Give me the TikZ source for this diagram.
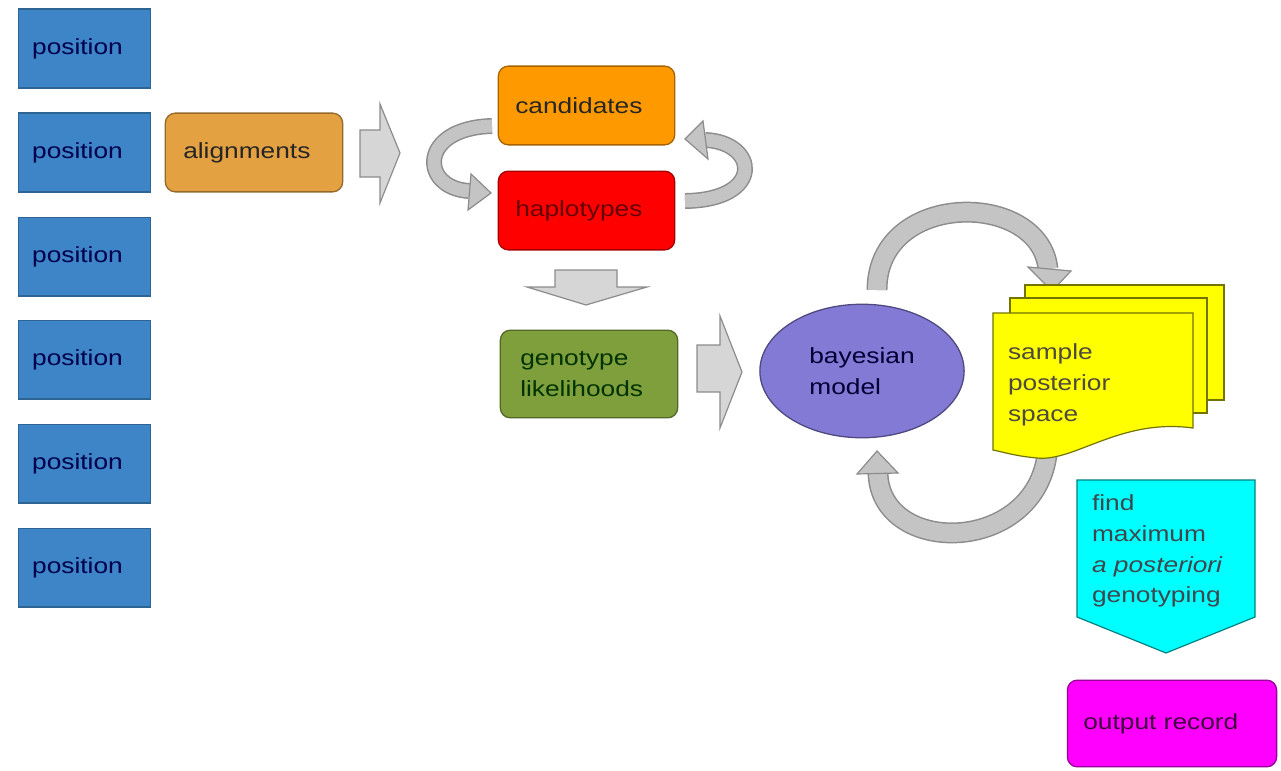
\documentclass[tikz,border=0pt]{standalone}
\usepackage{fontspec}
\setmainfont{Liberation Sans}[FakeStretch=1.2]
\usetikzlibrary{shapes.geometric}
\definecolor{posblue}{HTML}{3D85C6}
\definecolor{aligncol}{HTML}{E3A142}
\definecolor{candcol}{HTML}{FF9900}
\definecolor{haplcol}{HTML}{FF0000}
\definecolor{genocol}{HTML}{7F9F3C}
\definecolor{bayescol}{HTML}{837AD6}
\definecolor{doccol}{HTML}{FFFF00}
\definecolor{mapcol}{HTML}{00FFFF}
\definecolor{outcol}{HTML}{FF00FF}
\definecolor{arrowfill}{HTML}{D6D6D6}
\definecolor{arrowline}{HTML}{8C8C8C}
\definecolor{bandfill}{HTML}{C4C4C4}
\tikzset{
  every node/.style={font=\fontsize{22}{31}\selectfont, outer sep=0pt},
  basebox/.style={draw, line width=1.3, align=left, inner ysep=0pt, text=black!85},
  posbox/.style={basebox, fill=posblue, draw=posblue!75!black, text=blue!30!black,
    minimum width=133, minimum height=79, text width=105, inner xsep=14},
  rbox/.style={basebox, rounded corners=10},
  blockarrow/.style={fill=arrowfill, draw=arrowline, line width=1.2, line join=miter},
  bandout/.style={draw=arrowline, line width=16, line cap=butt},
  bandin/.style={draw=bandfill, line width=13, line cap=butt},
  bigbandout/.style={draw=arrowline, line width=21, line cap=butt},
  bigbandin/.style={draw=bandfill, line width=18, line cap=butt},
  bandhead/.style={fill=bandfill, draw=arrowline, line width=1.2, line join=miter},
  freetext/.style={inner sep=0pt, align=left, anchor=west, text=black!85}
}
\begin{document}
\begin{tikzpicture}[x=1bp, y=-1bp]
\useasboundingbox (0,0) rectangle (1281,771);

% position boxes
\node[posbox] (p1) at (84.5,48.5) {position};
\node[posbox] (p2) at (84.5,152.5) {position};
\node[posbox] (p3) at (84.5,256.5) {position};
\node[posbox] (p4) at (84.5,359.5) {position};
\node[posbox] (p5) at (84.5,463.5) {position};
\node[posbox] (p6) at (84.5,567.5) {position};

% curved loop arrows between candidates and haplotypes (drawn before boxes)
\draw[bandout] (492,126) .. controls (418,128) and (420,188) .. (469,191);
\draw[bandin]  (492,126) .. controls (418,128) and (420,188) .. (469,191);
\filldraw[bandhead] (491,193) -- (471,174) -- (468,210) -- cycle;
\draw[bandout] (685,201) .. controls (765,200) and (758,142) .. (705,140);
\draw[bandin]  (685,201) .. controls (765,200) and (758,142) .. (705,140);
\filldraw[bandhead] (685,139) -- (703,121) -- (708,159) -- cycle;

% alignments, candidates, haplotypes, genotype
\node[rbox, fill=aligncol, draw=aligncol!65!black, minimum width=178, minimum height=79,
  text width=142, inner xsep=18] (align) at (254,152.5) {alignments};
\node[rbox, fill=candcol, draw=candcol!65!black, minimum width=177, minimum height=79,
  text width=143, inner xsep=17] (cand) at (586.5,105.5) {candidates};
\node[rbox, fill=haplcol, draw=haplcol!65!black, text=red!40!black, minimum width=177, minimum height=79,
  text width=143, inner xsep=17] (hapl) at (586.5,210.5) {haplotypes};
\node[rbox, fill=genocol, draw=genocol!65!black, text=black!80!green, minimum width=178, minimum height=88,
  text width=138, inner xsep=20] (geno) at (589,374) {genotype\\likelihoods};

% block arrows
\filldraw[blockarrow] (360,130) -- (380,130) -- (380,104) -- (400,153) -- (380,203) -- (380,177) -- (360,177) -- cycle;
\filldraw[blockarrow] (555,270) -- (617,270) -- (617,287) -- (647,287) -- (586,305) -- (527,287) -- (555,287) -- cycle;
\filldraw[blockarrow] (697,345) -- (720,345) -- (720,316) -- (742,372) -- (720,428) -- (720,392) -- (697,392) -- cycle;

% bayesian model
\node[ellipse, draw=bayescol!60!black, line width=1.3, fill=bayescol, minimum width=205, minimum height=134,
  align=left, inner sep=0pt, text=blue!20!black] (bayes) at (862,371) {bayesian\\model};

% loop arrows around bayesian model
\draw[bigbandout] (877,290) .. controls (877,190) and (1040,190) .. (1048,269);
\draw[bigbandin]  (877,290) .. controls (877,190) and (1040,190) .. (1048,269);
\filldraw[bandhead] (1052,291) -- (1028,267) -- (1071,271) -- cycle;
\draw[bigbandout] (1048,440) .. controls (1048,555) and (880,560) .. (878,473);
\draw[bigbandin]  (1048,440) .. controls (1048,555) and (880,560) .. (878,473);
\filldraw[bandhead] (877,451) -- (857,474) -- (898,473) -- cycle;

% multi-document
\filldraw[fill=doccol, draw=doccol!45!black, line width=1.2]
  (1025,285) -- (1224,285) -- (1224,400) -- (1200,400) -- (1025,400) -- cycle;
\filldraw[fill=doccol, draw=doccol!45!black, line width=1.2]
  (1010,298) -- (1207,298) -- (1207,413) -- (1190,413) -- (1010,413) -- cycle;
\filldraw[fill=doccol, draw=doccol!45!black, line width=1.2]
  (993,313) -- (1193,313) -- (1193,428) .. controls (1120,418) and (1075,462) .. (1037,458)
  .. controls (1015,456) and (1003,452) .. (993,450) -- cycle;
\node[freetext, text=black!80!yellow] (sample) at (1008,385) {sample\\posterior\\space};

% find MAP pentagon
\filldraw[fill=mapcol, draw=mapcol!50!black, line width=1.2]
  (1077,480) -- (1255,480) -- (1255,617) -- (1166,653) -- (1077,617) -- cycle;
\node[freetext, text=black!80!cyan] (findmap) at (1092,551) {find\\maximum\\\textit{a posteriori}\\genotyping};

% output record
\node[rbox, fill=outcol, draw=outcol!60!black, text=outcol!25!black, minimum width=210, minimum height=87,
  text width=178, inner xsep=16] (output) at (1172,723.5) {output record};
\end{tikzpicture}
\end{document}
